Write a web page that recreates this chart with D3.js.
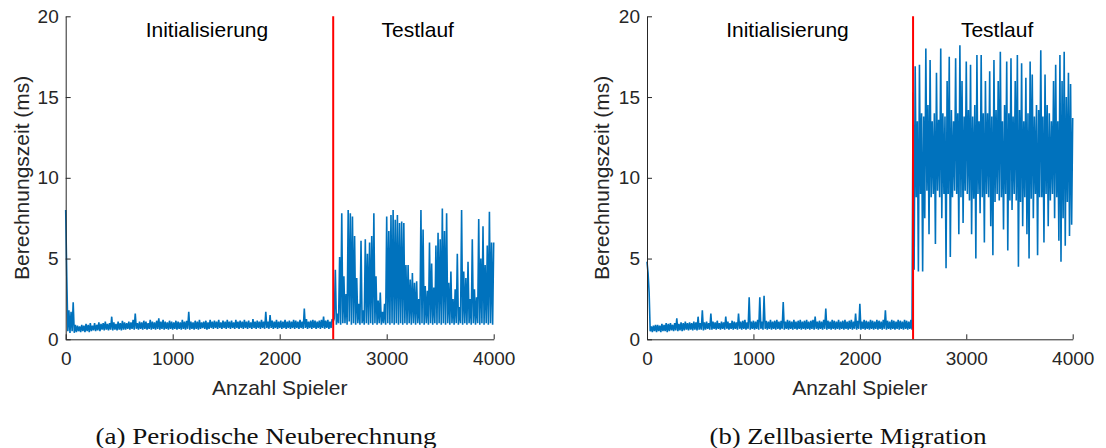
<!DOCTYPE html>
<html>
<head>
<meta charset="utf-8">
<script src="https://cdn.jsdelivr.net/npm/d3@7"></script>
<style>
  html, body { margin: 0; padding: 0; background: #fff; }
  svg { display: block; }
</style>
</head>
<body>
<svg id="chart" width="1106" height="448"></svg>
<script>
// ---------- data (one value every 10 players) ----------
const xStep = 10;
const splitAt = 2500;
const xTicks = [0, 1000, 2000, 3000, 4000];
const yTicks = [0, 5, 10, 15, 20];
const phaseLabels = ["Initialisierung", "Testlauf"];
const xLabel = "Anzahl Spieler";
const yLabel = "Berechnungszeit (ms)";
const captions = ["(a) Periodische Neuberechnung", "(b) Zellbasierte Migration"];

// (a) Periodische Neuberechnung, x = 0 .. 2490
const leftInit = [
  8.0, 3.9, 0.5, 1.8, 0.4, 1.7, 0.5, 2.3, 0.4, 0.9,
  0.45, 0.85, 0.5, 0.8, 0.45, 0.9, 0.5, 0.85, 0.45, 0.95,
  0.5, 0.9, 0.45, 1.0, 0.5, 0.85, 0.55, 1.0, 0.5, 0.9,
  0.55, 1.05, 0.5, 0.95, 0.6, 1.0, 0.55, 1.1, 0.6, 0.95,
  0.55, 1.0, 0.6, 1.4, 0.55, 1.05, 0.6, 0.95, 0.55, 1.1,
  0.6, 1.0, 0.55, 1.15, 0.6, 1.05, 0.6, 1.0, 0.65, 1.1,
  0.6, 1.05, 0.65, 1.2, 0.6, 1.6, 0.65, 1.0, 0.6, 1.1,
  0.65, 1.05, 0.6, 1.15, 0.65, 1.1, 0.6, 1.0, 0.65, 1.2,
  0.6, 1.1, 0.65, 1.05, 0.6, 1.15, 0.65, 1.3, 0.6, 1.1,
  0.65, 1.2, 0.6, 1.1, 0.65, 1.05, 0.6, 1.15, 0.65, 1.1,
  0.6, 1.05, 0.65, 1.15, 0.6, 1.1, 0.65, 1.05, 0.6, 1.2,
  0.65, 1.1, 0.6, 1.15, 0.65, 1.7, 0.6, 1.1, 0.65, 1.05,
  0.6, 1.15, 0.65, 1.1, 0.6, 1.2, 0.65, 1.05, 0.7, 1.1,
  0.65, 1.15, 0.6, 1.05, 0.65, 1.2, 0.7, 1.1, 0.65, 1.15,
  0.7, 1.1, 0.65, 1.2, 0.7, 1.05, 0.65, 1.15, 0.7, 1.1,
  0.65, 1.2, 0.7, 1.1, 0.65, 1.15, 0.7, 1.05, 0.65, 1.2,
  0.7, 1.1, 0.65, 1.15, 0.7, 1.1, 0.65, 1.2, 0.7, 1.1,
  0.65, 1.15, 0.7, 1.05, 0.65, 1.25, 0.7, 1.1, 0.65, 1.15,
  0.7, 1.1, 0.65, 1.2, 0.7, 1.1, 0.65, 1.7, 0.7, 1.1,
  0.65, 1.5, 0.7, 1.15, 0.65, 1.1, 0.7, 1.2, 0.65, 1.1,
  0.7, 1.15, 0.65, 1.1, 0.7, 1.2, 0.65, 1.1, 0.7, 1.15,
  0.65, 1.1, 0.7, 1.2, 0.65, 1.15, 0.7, 1.1, 0.65, 1.2,
  0.7, 1.1, 0.65, 1.9, 0.7, 1.25, 0.65, 1.1, 0.7, 1.15,
  0.65, 1.2, 0.7, 1.15, 0.65, 1.1, 0.7, 1.15, 0.65, 1.2,
  0.7, 1.4, 0.65, 1.15, 0.7, 1.2, 0.65, 1.1, 0.7, 1.25
];
// (a) x = 2500 .. 4000
const leftTest = [
  1.1, 1.3, 4.3, 0.9, 1.6, 1.0, 5.1, 0.9, 7.8, 1.0,
  3.9, 1.0, 2.8, 0.9, 8.0, 1.1, 7.8, 0.9, 7.6, 1.0,
  6.4, 0.9, 3.8, 1.0, 2.2, 0.9, 6.1, 1.0, 1.8, 0.9,
  6.2, 1.0, 5.3, 0.9, 6.0, 1.0, 6.4, 0.9, 7.8, 1.0,
  3.9, 0.9, 2.4, 1.0, 2.9, 0.9, 1.7, 1.0, 2.2, 0.9,
  7.6, 1.0, 6.7, 0.9, 7.7, 1.0, 8.0, 0.9, 7.4, 1.0,
  7.7, 0.9, 7.2, 1.0, 7.3, 0.9, 7.2, 1.0, 4.6, 0.9,
  4.6, 1.0, 3.7, 0.9, 4.1, 1.0, 3.5, 0.9, 3.6, 1.0,
  2.5, 0.9, 8.0, 1.0, 6.8, 0.9, 3.3, 1.0, 3.0, 0.9,
  6.0, 1.0, 4.7, 0.9, 3.2, 1.0, 5.8, 0.9, 6.6, 1.0,
  6.2, 0.9, 8.1, 1.0, 6.7, 0.9, 7.8, 1.0, 3.5, 0.9,
  4.2, 1.0, 2.5, 0.9, 3.1, 1.0, 5.3, 0.9, 2.0, 1.0,
  8.0, 0.9, 4.2, 1.0, 3.8, 0.9, 4.8, 1.0, 2.5, 0.9,
  6.2, 1.0, 3.1, 0.9, 2.6, 1.0, 7.45, 0.9, 5.0, 1.0,
  7.0, 0.9, 4.6, 1.0, 5.8, 0.9, 7.9, 1.0, 6.0, 0.9,
  6.0
];

// (b) Zellbasierte Migration, x = 0 .. 2490
const rightInit = [
  4.8, 4.1, 2.9, 0.5, 0.8, 0.45, 0.85, 0.5, 0.9, 0.45,
  0.9, 0.5, 0.85, 0.45, 0.95, 0.5, 0.9, 0.5, 1.0, 0.45,
  0.95, 0.5, 1.0, 0.55, 0.9, 0.5, 1.0, 0.55, 1.3, 0.5,
  0.95, 0.55, 1.05, 0.5, 1.0, 0.55, 1.1, 0.6, 1.0, 0.55,
  1.05, 0.6, 1.0, 0.55, 1.1, 0.6, 1.05, 0.55, 1.4, 0.6,
  1.0, 0.6, 1.8, 0.55, 1.05, 0.6, 1.1, 0.65, 1.0, 0.6,
  1.6, 0.6, 1.1, 0.65, 1.05, 0.6, 1.15, 0.65, 1.0, 0.6,
  1.1, 0.65, 1.05, 0.6, 1.4, 0.65, 1.1, 0.6, 1.0, 0.65,
  1.15, 0.6, 1.1, 0.65, 1.05, 0.6, 1.6, 0.65, 1.1, 0.6,
  1.15, 0.65, 1.2, 0.6, 1.05, 0.65, 2.6, 0.6, 1.1, 0.65,
  1.15, 0.6, 1.1, 0.65, 1.2, 0.6, 2.6, 0.65, 1.1, 0.6,
  2.7, 0.65, 1.15, 0.6, 1.1, 0.65, 1.2, 0.6, 1.1, 0.65,
  1.15, 0.6, 1.2, 0.65, 1.1, 0.6, 1.15, 0.65, 2.3, 0.6,
  1.1, 0.65, 1.2, 0.6, 1.15, 0.65, 1.1, 0.6, 1.2, 0.65,
  1.1, 0.6, 1.15, 0.65, 1.2, 0.6, 1.1, 0.65, 1.15, 0.6,
  1.2, 0.65, 1.1, 0.6, 1.15, 0.65, 1.2, 0.6, 1.4, 0.65,
  1.1, 0.6, 1.15, 0.65, 1.1, 0.6, 1.2, 0.65, 1.9, 0.6,
  1.15, 0.65, 1.1, 0.6, 1.2, 0.65, 1.15, 0.6, 1.1, 0.65,
  1.2, 0.6, 1.1, 0.65, 1.15, 0.6, 1.2, 0.65, 1.1, 0.6,
  1.15, 0.65, 1.2, 0.6, 1.1, 0.65, 1.6, 0.6, 1.15, 0.65,
  2.2, 0.6, 1.1, 0.65, 1.2, 0.6, 1.15, 0.65, 1.1, 0.6,
  1.2, 0.65, 1.15, 0.6, 1.1, 0.65, 1.2, 0.6, 1.15, 0.65,
  1.1, 0.6, 1.2, 0.65, 1.8, 0.6, 1.15, 0.65, 1.1, 0.6,
  1.2, 0.65, 1.15, 0.6, 1.1, 0.65, 1.2, 0.6, 1.15, 0.65,
  1.1, 0.6, 1.2, 0.65, 1.15, 0.6, 1.1, 0.65, 1.2, 0.6
];
// (b) x = 2500 .. 4000
const rightTest = [
  15.3, 4.3, 16.9, 8.8, 13.5, 4.2, 17.0, 9.0, 14.0, 4.2,
  13.8, 7.5, 18.0, 9.2, 14.5, 6.5, 17.3, 8.8, 13.5, 9.0,
  14.0, 5.9, 16.5, 9.2, 13.6, 8.8, 18.0, 7.5, 14.0, 9.0,
  13.8, 4.4, 16.0, 9.0, 17.5, 5.1, 14.2, 8.8, 13.5, 9.2,
  17.4, 9.0, 14.0, 6.5, 18.2, 8.8, 16.0, 7.2, 13.8, 9.2,
  17.2, 9.0, 14.2, 8.6, 17.0, 6.5, 13.8, 8.7, 14.5, 5.0,
  17.6, 9.0, 13.5, 7.8, 17.6, 8.8, 14.0, 6.0, 16.0, 9.0,
  14.0, 8.8, 16.6, 7.0, 13.8, 5.2, 17.3, 8.5, 14.2, 9.0,
  16.0, 8.6, 17.8, 8.8, 13.5, 6.8, 14.5, 9.0, 17.2, 5.5,
  14.0, 8.6, 17.4, 8.0, 13.8, 9.0, 16.0, 8.6, 17.6, 4.5,
  14.2, 8.5, 17.1, 7.0, 13.5, 8.8, 16.2, 6.5, 14.0, 5.0,
  17.2, 8.7, 16.4, 7.5, 13.8, 9.0, 14.5, 5.2, 14.2, 8.8,
  17.9, 8.8, 13.8, 6.0, 16.4, 9.0, 14.5, 7.0, 14.0, 8.6,
  13.5, 9.0, 16.0, 7.5, 17.0, 8.8, 13.5, 6.1, 17.6, 4.8,
  16.0, 7.5, 17.8, 5.8, 15.0, 8.5, 16.5, 6.4, 15.8, 7.1,
  13.7
];

// ---------- drawing ----------
const svg = d3.select("#chart");
const fontSans = "'Liberation Sans', Arial, Helvetica, sans-serif";
const fontSerif = "'Liberation Serif', 'Times New Roman', serif";
const axisColor = "#262626";
const lineColor = "#0072BD";
const splitColor = "#FF0000";

const panels = [
  { init: leftInit, test: leftTest, left: 65.7, right: 493.7, yLabelX: 28.5, caption: captions[0], capX: 266, capW: 341 },
  { init: rightInit, test: rightTest, left: 647, right: 1072.7, yLabelX: 609, caption: captions[1], capX: 848, capW: 277 }
];
const plotTop = 16.3, plotBottom = 339.3;
const phaseLabelX = [1320, 3290];
const phaseLabelY = 18.7;

panels.forEach(p => {
  const x = d3.scaleLinear().domain([0, 4000]).range([p.left, p.right]);
  const y = d3.scaleLinear().domain([0, 20]).range([plotBottom, plotTop]);
  const g = svg.append("g");

  const series = p.init.map((v, i) => ({ x: i * xStep, y: v }))
    .concat(p.test.map((v, i) => ({ x: splitAt + i * xStep, y: v })));

  const line = d3.line().x(d => x(d.x)).y(d => y(d.y));
  g.append("path")
    .datum(series)
    .attr("d", line)
    .attr("fill", "none")
    .attr("stroke", lineColor)
    .attr("stroke-width", 1.6)
    .attr("stroke-linejoin", "miter")
    .attr("stroke-miterlimit", 2);

  // split line
  g.append("line")
    .attr("x1", x(splitAt)).attr("x2", x(splitAt))
    .attr("y1", y(0)).attr("y2", y(20))
    .attr("stroke", splitColor)
    .attr("stroke-width", 2);

  // axes
  const xAxis = d3.axisBottom(x).tickValues(xTicks).tickSizeInner(-5).tickSizeOuter(0).tickPadding(12)
    .tickFormat(d3.format("d"));
  const yAxis = d3.axisLeft(y).tickValues(yTicks).tickSizeInner(-5).tickSizeOuter(0).tickPadding(7)
    .tickFormat(d3.format("d"));

  const gx = g.append("g").attr("transform", `translate(0,${plotBottom})`).call(xAxis);
  const gy = g.append("g").attr("transform", `translate(${p.left},0)`).call(yAxis);
  [gx, gy].forEach(a => {
    a.select(".domain").attr("stroke", axisColor).attr("stroke-width", 1);
    a.selectAll(".tick line").attr("stroke", axisColor).attr("stroke-width", 1);
    a.selectAll(".tick text")
      .attr("fill", axisColor)
      .style("font-family", fontSans)
      .style("font-size", "19px");
  });

  // phase labels
  phaseLabels.forEach((t, i) => {
    g.append("text")
      .attr("x", x(phaseLabelX[i]))
      .attr("y", y(phaseLabelY))
      .attr("text-anchor", "middle")
      .attr("fill", "#000")
      .style("font-family", fontSans)
      .style("font-size", "21px")
      .text(t);
  });

  // axis labels
  g.append("text")
    .attr("x", (p.left + p.right) / 2)
    .attr("y", 395)
    .attr("text-anchor", "middle")
    .attr("fill", axisColor)
    .style("font-family", fontSans)
    .style("font-size", "21px")
    .text(xLabel);

  g.append("text")
    .attr("transform", `translate(${p.yLabelX},${(plotTop + plotBottom) / 2}) rotate(-90)`)
    .attr("text-anchor", "middle")
    .attr("fill", axisColor)
    .style("font-family", fontSans)
    .style("font-size", "21px")
    .text(yLabel);

  // caption
  g.append("text")
    .attr("x", p.capX)
    .attr("y", 444)
    .attr("text-anchor", "middle")
    .attr("fill", "#111")
    .attr("textLength", p.capW)
    .attr("lengthAdjust", "spacingAndGlyphs")
    .style("font-family", fontSerif)
    .style("font-size", "23px")
    .text(p.caption);
});
</script>
</body>
</html>
